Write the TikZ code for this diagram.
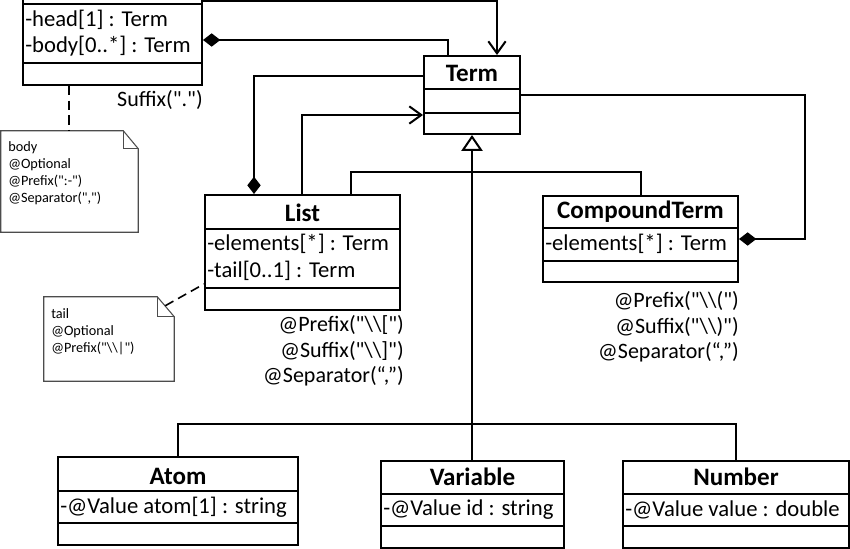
\documentclass[tikz,border=0pt]{standalone}
\usepackage{fontspec}
\setmainfont{Carlito}
\usetikzlibrary{arrows.meta,fit,calc}
\newcommand\bodyfont{\fontsize{17}{19}\selectfont}
\newcommand\lblfont{\fontsize{16.5}{19}\selectfont}
\newcommand\titlefont{\fontsize{18.8}{21}\selectfont\bfseries}
\newcommand\notefont{\fontsize{10.7}{12.8}\selectfont}
\newcommand\q{\textquotedbl}
\newcommand\bs{\textbackslash}
\begin{document}
\begin{tikzpicture}[x=0.75pt,y=-0.75pt,
  box/.style={draw, line width=1.5pt, inner sep=0pt},
  sep/.style={line width=1.5pt},
  conn/.style={line width=1.5pt},
  assoc/.style={conn, -{Straight Barb[length=9pt,width=13pt,line width=1.5pt]}},
  compend/.style={conn, -{Diamond[length=13pt,width=10pt]}},
  compstart/.style={conn, {Diamond[length=13pt,width=10pt]}-},
  gen/.style={conn, -{Triangle[open,length=12pt,width=16pt,fill=white,line width=1.5pt]}},
  dashline/.style={line width=1.2pt, dash pattern=on 7pt off 4pt},
  notebox/.style={inner sep=0pt},
  noteline/.style={line width=0.8pt, draw=black!70},
  title/.style={font=\titlefont, inner sep=0pt},
  attr/.style={font=\bodyfont, inner sep=0pt, anchor=west},
  lbl/.style={font=\lblfont, inner sep=0pt, align=right},
  notetext/.style={font=\notefont, inner sep=0pt, align=left, anchor=north west}
]
\clip (0,0) rectangle (850,549);
\fill[white] (0,0) rectangle (850,549);

% ---------- class boxes ----------
\node[box, fit={(23,-40) (202,85)}] (clause) {};
\draw[sep] (clause.west |- 0,4) -- (clause.east |- 0,4);
\draw[sep] (clause.west |- 0,63) -- (clause.east |- 0,63);
\node[attr] (chead) at (25,20) {-head[1] : Term};
\node[attr] (cbody) at (25,46) {-body[0..*] : Term};
\node[lbl, anchor=east] (csuffix) at (203,100) {Suffix(\q.\q)};

\node[box, fit={(424,56) (520,134)}] (term) {};
\draw[sep] (term.west |- 0,89) -- (term.east |- 0,89);
\draw[sep] (term.west |- 0,113) -- (term.east |- 0,113);
\node[title] (termt) at (472,73) {Term};

\node[box, fit={(205,195) (400,310)}] (list) {};
\draw[sep] (list.west |- 0,229) -- (list.east |- 0,229);
\draw[sep] (list.west |- 0,288) -- (list.east |- 0,288);
\node[title] (listt) at (302.5,213) {List};
\node[attr] (lel) at (207,244) {-elements[*] : Term};
\node[attr] (ltail) at (207,271) {-tail[0..1] : Term};
\node[lbl, anchor=east] (llbl) at (404,351) {@Prefix(\q\bs\bs[\q)\\@Suffix(\q\bs\bs]\q)\\@Separator(“,”)};

\node[box, fit={(543,196) (738,282)}] (compound) {};
\draw[sep] (compound.west |- 0,228) -- (compound.east |- 0,228);
\draw[sep] (compound.west |- 0,261) -- (compound.east |- 0,261);
\node[title] (compt) at (640.5,212) {CompoundTerm};
\node[attr] (cel) at (545,244) {-elements[*] : Term};
\node[lbl, anchor=east] (clbl) at (739,327) {@Prefix(\q\bs\bs(\q)\\@Suffix(\q\bs\bs)\q)\\@Separator(“,”)};

\node[box, fit={(58,457) (298,545)}] (atom) {};
\draw[sep] (atom.west |- 0,491) -- (atom.east |- 0,491);
\draw[sep] (atom.west |- 0,523) -- (atom.east |- 0,523);
\node[title] (atomt) at (178,476) {Atom};
\node[attr] (aval) at (60,507) {-@Value atom[1] : string};

\node[box, fit={(381,461) (564,548)}] (variable) {};
\draw[sep] (variable.west |- 0,494) -- (variable.east |- 0,494);
\draw[sep] (variable.west |- 0,526) -- (variable.east |- 0,526);
\node[title] (vart) at (472.5,477) {Variable};
\node[attr] (vval) at (383,510) {-@Value id : string};

\node[box, fit={(623,461) (849,548)}] (number) {};
\draw[sep] (number.west |- 0,494) -- (number.east |- 0,494);
\draw[sep] (number.west |- 0,526) -- (number.east |- 0,526);
\node[title] (numt) at (736,477) {Number};
\node[attr] (nval) at (625,510) {-@Value value : double};

% ---------- notes ----------
\node[notebox, fit={(1,131) (138,232)}] (bodynote) {};
\draw[noteline] (bodynote.north west) -- ($(bodynote.north east)+(-15,0)$) -- ($(bodynote.north east)+(0,18)$) -- (bodynote.south east) -- (bodynote.south west) -- cycle;
\draw[noteline] ($(bodynote.north east)+(-15,0)$) -- ($(bodynote.north east)+(-15,18)$) -- ($(bodynote.north east)+(0,18)$);
\node[notetext] (bodytext) at (8,141) {body\\@Optional\\@Prefix(\q:-\q)\\@Separator(\q,\q)};

\node[notebox, fit={(44,297) (174,381)}] (tailnote) {};
\draw[noteline] (tailnote.north west) -- ($(tailnote.north east)+(-17,0)$) -- ($(tailnote.north east)+(0,20)$) -- (tailnote.south east) -- (tailnote.south west) -- cycle;
\draw[noteline] ($(tailnote.north east)+(-17,0)$) -- ($(tailnote.north east)+(-17,20)$) -- ($(tailnote.north east)+(0,20)$);
\node[notetext] (tailtext) at (51,308) {tail\\@Optional\\@Prefix(\q\bs\bs|\q)};

% ---------- connectors ----------
\draw[assoc] (clause.east |- 0,1) -| (term.north -| 497,0);
\draw[compstart] (clause.east |- 0,40) -| (term.north -| 448,0);
\draw[compend] (term.west |- 0,76) -| (list.north -| 254,0);
\draw[assoc] (list.north -| 302,0) |- (term.west |- 0,115);
\draw[compend] (term.east |- 0,95) -| (805,239) -- (compound.east |- 0,239);

\draw[conn] (list.north -| 351,0) |- (472,172) -| (compound.north);
\draw[conn] (atom.north) |- (472,424) -| (number.north);
\draw[gen] (variable.north -| 472,0) -- (term.south -| 472,0);

\draw[dashline] (clause.south -| 69,0) -- (bodynote.north -| 69,0);
\draw[dashline] ($(tailnote.north east)+(-9,9)$) -- (list.west |- 0,284);
\end{tikzpicture}
\end{document}
